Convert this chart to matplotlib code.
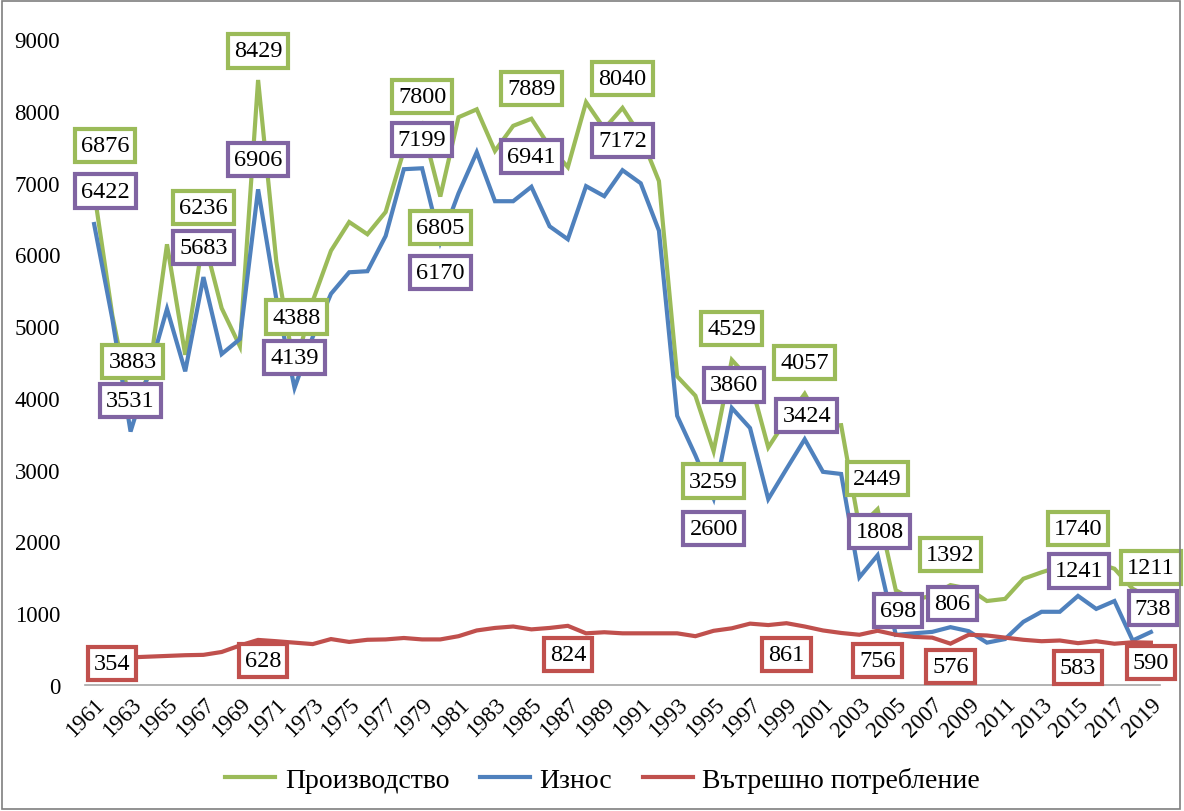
import numpy as np
import matplotlib
matplotlib.use("Agg")
import matplotlib.pyplot as plt
from matplotlib.patches import Rectangle
from matplotlib.lines import Line2D

# --- data ---
years = list(range(1961, 2020))

production = [6876, 5150, 3883, 4300, 6140, 4600, 6236, 5250, 4720, 8429,
              5900, 4388, 5350, 6050, 6450, 6280, 6590, 7450, 7800, 6805,
              7910, 8020, 7440, 7790, 7889, 7500, 7215, 8120, 7750, 8040,
              7650, 7020, 4300, 4030, 3259, 4529, 4250, 3310, 3700, 4057,
              3600, 3620, 2200, 2449, 1320, 1180, 1250, 1392, 1340, 1170,
              1200, 1480, 1570, 1650, 1740, 1700, 1620, 1340, 1211]

export = [6422, 5100, 3531, 4350, 5240, 4370, 5683, 4610, 4820, 6906,
          5380, 4139, 4850, 5450, 5750, 5765, 6255, 7186, 7199, 6170,
          6850, 7423, 6740, 6740, 6941, 6390, 6210, 6950, 6810, 7172,
          6990, 6330, 3750, 3200, 2600, 3860, 3580, 2590, 3010, 3424,
          2970, 2940, 1500, 1808, 698, 720, 740, 806, 750, 590,
          640, 880, 1020, 1020, 1241, 1060, 1170, 620, 738]

domestic = [354, 370, 385, 395, 405, 415, 420, 460, 550, 628,
            610, 590, 570, 640, 600, 630, 635, 655, 635, 635,
            680, 760, 795, 815, 775, 795, 824, 720, 735, 720,
            720, 720, 720, 680, 755, 790, 855, 835, 861, 815,
            760, 725, 700, 756, 700, 670, 660, 576, 700, 690,
            660, 630, 610, 620, 583, 610, 575, 595, 590]

series_names = ["Производство", "Износ", "Вътрешно потребление"]
line_colors = ["#9BBB59", "#4F81BD", "#C0504D"]
box_colors = ["#9BBB59", "#8064A2", "#C0504D"]

# labelled years per series, with label offsets in pixels (dx, dy; dy>0 = down)
labels_prod = [(1961, 11, -46), (1963, 2, -45), (1967, 0, -30), (1970, 0, -29),
               (1972, 2, -53), (1979, 0, -29), (1980, 0, 31), (1985, 0, -30),
               (1990, 0, -29), (1995, 0, 30), (1996, 0, -31), (2000, 0, -31),
               (2004, 0, -31), (2008, 0, -31), (2015, 0, -32), (2019, 0, -31)]
labels_exp = [(1961, 11, -33), (1963, 0, -31), (1967, 0, -30), (1970, 0, -30),
              (1972, 0, -30), (1979, 0, -29), (1980, 0, 30), (1985, 0, -30),
              (1990, 0, -30), (1995, 0, 30), (1996, 2, -23), (2000, 2, -24),
              (2004, 2, -24), (2005, 2, -24), (2008, 2, -24), (2015, 1, -25),
              (2019, 2, -24)]
labels_dom = [(1961, 18, 4), (1970, 5, 21), (1987, 0, 29), (1999, 0, 31),
              (2004, 0, 30), (2008, 0, 23), (2015, 0, 24), (2019, 0, 20)]

plt.rcParams["font.family"] = ["Liberation Serif", "DejaVu Serif"]

dpi = 100
fig = plt.figure(figsize=(11.84, 8.12), dpi=dpi)
ax = fig.add_axes([85 / 1184, 1 - 686 / 812, (1160 - 85) / 1184, (686 - 40) / 812])

all_series = [production, export, domestic]
all_labels = [labels_prod, labels_exp, labels_dom]

for vals, col in zip(all_series, line_colors):
    ax.plot(years, vals, color=col, lw=3.0, solid_joinstyle="miter", zorder=2)

px = 72.0 / dpi
for vals, bcol, lab in zip(all_series, box_colors, all_labels):
    for yr, dx, dy in lab:
        v = vals[yr - years[0]]
        ax.annotate(str(v), xy=(yr, v), xytext=(dx * px, -dy * px),
                    textcoords="offset points", ha="center", va="center",
                    fontsize=17.5, color="black", zorder=5, annotation_clip=False,
                    bbox=dict(boxstyle="square,pad=0.25", fc="white",
                              ec=bcol, lw=3.0))

ax.set_xlim(years[0] - 0.5, years[-1] + 0.5)
ax.set_ylim(0, 9000)
ax.set_yticks(np.arange(0, 9001, 1000))
ax.set_xticks(years[::2])
ax.set_xticklabels([str(y) for y in years[::2]], rotation=45, ha="right",
                   rotation_mode="anchor", fontsize=16.5)
ax.tick_params(axis="y", labelsize=16.5, length=0, pad=18)
ax.tick_params(axis="x", length=0, pad=6)

for s in ["top", "right", "left"]:
    ax.spines[s].set_visible(False)
ax.spines["bottom"].set_color("#A6A6A6")
ax.spines["bottom"].set_linewidth(1.2)

handles = [Line2D([0], [0], color=c, lw=3.0) for c in line_colors]
fig.legend(handles, series_names, loc="center", bbox_to_anchor=(0.509, 1 - 781 / 812),
           ncol=3, frameon=False, fontsize=20, handlelength=1.8,
           handletextpad=0.35, columnspacing=1.1)

fig.patches.append(Rectangle((0.002, 0.003), 0.995, 0.994, transform=fig.transFigure,
                             fill=False, ec="#7F7F7F", lw=1.2))

fig.savefig("out.png", dpi=dpi)
